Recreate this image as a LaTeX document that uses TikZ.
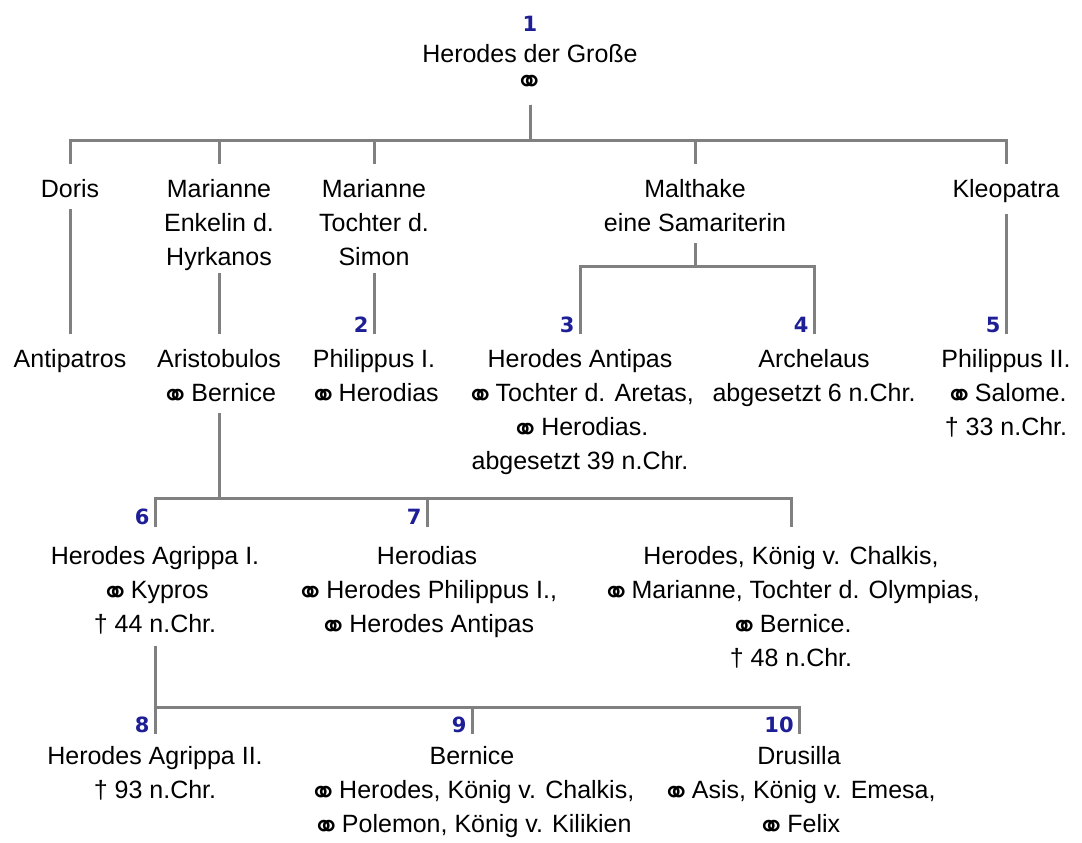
\documentclass[tikz,border=0pt]{standalone}
\usepackage{fontspec}
\setmainfont{Liberation Sans}
\newfontfamily\symfont{DejaVu Sans}
\usepackage{tikz}
\usetikzlibrary{positioning}
\definecolor{linegray}{RGB}{128,128,128}
\definecolor{numblue}{RGB}{30,30,150}
\newcommand{\marr}{{\symfont\fontsize{17}{17}\selectfont\raisebox{-2.8pt}[0pt][0pt]{⚭}}\hspace{0.5pt}}

\begin{document}
\begin{tikzpicture}[x=0.5pt, y=-0.5pt,
  person/.style={anchor=north, align=center, inner sep=0pt,
    font=\fontsize{12.5}{17}\selectfont},
  num/.style={anchor=south east, inner sep=0pt, text=numblue,
    font=\symfont\fontsize{10.5}{13}\selectfont\bfseries},
  conn/.style={draw=linegray, line width=1.5pt,
    shorten <=5.5pt, shorten >=7.5pt}]
  \useasboundingbox (0,0) rectangle (1082,842);

  % === Generation 1 ===
  \node[person] (herodes) at (530,44) {Herodes der Große};
  \node[num, anchor=south] (n1) at ([yshift=6pt]herodes.north) {1};
  \node[inner sep=0pt] (ring) at (530,84) {\symfont\fontsize{17}{17}\selectfont ⚭};

  % Bus lines
  \coordinate (bus1) at (0,140);
  \coordinate (bus2) at (0,266);
  \coordinate (bus3) at (0,498);
  \coordinate (bus4) at (0,707);

  % === Wives ===
  \node[person] (doris) at (70,179) {Doris};
  \node[person] (mar1) at (219,179) {Marianne\\Enkelin d.\\Hyrkanos};
  \node[person] (mar2) at (374,179) {Marianne\\Tochter d.\\Simon};
  \node[person] (malt) at (695,179) {Malthake\\eine Samariterin};
  \node[person] (kleo) at (1006,179) {Kleopatra};
  \foreach \w in {doris,mar1,mar2,malt,kleo} {
    \draw[conn] (ring.south) -- (ring.south |- bus1) -| (\w.north);
  }

  % === Sons ===
  \node[person] (antip) at (70,349) {Antipatros};
  \node[person] (aristo) at (219,349) {Aristobulos\\\marr Bernice};
  \node[person] (phil1) at (374,349) {Philippus I.\\\marr Herodias};
  \node[person] (antipas) at (580,349)
    {Herodes Antipas\\\marr Tochter d. Aretas,\\\marr Herodias.\\abgesetzt 39 n.Chr.};
  \node[person] (archel) at (814,349) {Archelaus\\abgesetzt 6 n.Chr.};
  \node[person] (phil2) at (1006,349) {Philippus II.\\\marr Salome.\\† 33 n.Chr.};
  \draw[conn] (doris.south) -- (antip.north);
  \draw[conn, shorten <=1pt] (mar1.south) -- (aristo.north);
  \draw[conn, shorten <=3.5pt] (mar2.south) -- (phil1.north);
  \draw[conn] (kleo.south) -- (phil2.north);
  \foreach \s in {antipas,archel} {
    \draw[conn] (malt.south) -- (malt.south |- bus2) -| (\s.north);
  }
  \foreach \s/\n in {phil1/2, antipas/3, archel/4, phil2/5} {
    \node[num] (n\n) at ([xshift=-2.5pt, yshift=8pt]\s.north) {\n};
  }

  % === Grandchildren ===
  \node[person] (agr1) at (155,546) {Herodes Agrippa I.\\\marr Kypros\\† 44 n.Chr.};
  \node[person] (herodias) at (427,546)
    {Herodias\\\marr Herodes Philippus I.,\\\marr Herodes Antipas};
  \node[person] (chalk) at (791,546)
    {Herodes, König v. Chalkis,\\\marr Marianne, Tochter d. Olympias,\\\marr Bernice.\\† 48 n.Chr.};
  \foreach \g in {agr1,herodias,chalk} {
    \draw[conn, shorten >=9.5pt] (aristo.south) -- (aristo.south |- bus3) -| (\g.north);
  }
  \foreach \g/\n in {agr1/6, herodias/7} {
    \node[num] (n\n) at ([xshift=-2.5pt, yshift=10.5pt]\g.north) {\n};
  }

  % === Great-grandchildren ===
  \node[person] (agr2) at (155,746) {Herodes Agrippa II.\\† 93 n.Chr.};
  \node[person] (bern) at (472,746)
    {Bernice\\\marr Herodes, König v. Chalkis,\\\marr Polemon, König v. Kilikien};
  \node[person] (drus) at (799,746)
    {Drusilla\\\marr Asis, König v. Emesa,\\\marr Felix};
  \foreach \g/\n in {agr2/8, bern/9, drus/10} {
    \draw[conn, shorten >=6pt] (agr1.south) -- (agr1.south |- bus4) -| (\g.north);
    \node[num] (n\n) at ([xshift=-2.5pt, yshift=6.5pt]\g.north) {\n};
  }
\end{tikzpicture}
\end{document}
